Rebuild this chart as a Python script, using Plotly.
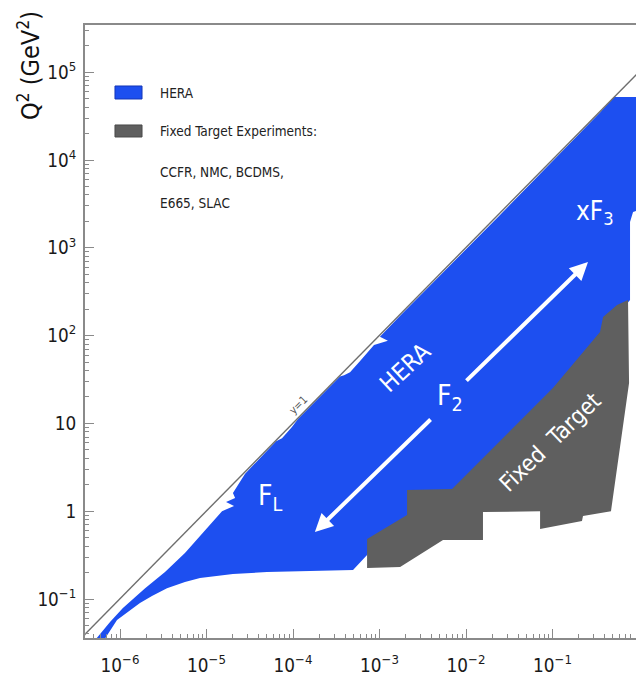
import math
import plotly.graph_objects as go

# HERA kinematic coverage: boundary in (x, Q^2 [GeV^2]), traced clockwise
hera_x = [5.14e-7, 7.66e-7, 1.08e-6, 1.95e-6, 3.31e-6, 5.63e-6, 8.41e-6, 1.16e-5, 1.51e-5,
          2.08e-5, 1.68e-5, 2.14e-5, 2.02e-5, 2.79e-5, 5.42e-5, 6.37e-5, 7.46e-5, 9.72e-5,
          1.14e-4, 3.49e-4, 3.89e-4, 4.56e-4, 5.96e-4, 7.76e-4, 8.63e-4, 1.25e-3, 1.01e-3,
          1.73e-3, 6.53e-3, 2.47e-2, 9.35e-2, 0.354, 0.514,
          1.17, 1.17, 0.853, 0.787, 0.787, 0.689, 0.354, 0.101, 7.46e-3, 2.38e-3, 2.38e-3,
          8.18e-4, 7.18e-4, 4.94e-4, 1.38e-4, 5.0e-5, 2.02e-5, 8.41e-6, 5.63e-6, 3.49e-6,
          2.34e-6, 1.70e-6, 9.23e-7, 6.53e-7]
hera_q2 = [0.034, 0.0547, 0.0789, 0.133, 0.203, 0.334, 0.523, 0.753, 1.00,
           1.15, 1.27, 1.41, 1.61, 2.67, 5.33, 6.25, 6.79, 9.08,
           11.2, 34.3, 35.3, 38.3, 51.4, 70.6, 78.3, 87.7, 97.2,
           168, 625, 2370, 9080, 34800, 52200,
           52200, 2840, 2560, 1970, 255, 217, 84.6, 20.5, 1.45, 1.45, 0.794,
           0.412, 0.317, 0.214, 0.208, 0.203, 0.193, 0.173, 0.156, 0.133,
           0.108, 0.090, 0.0577, 0.034]

# Fixed-target coverage (CCFR, NMC, BCDMS, E665, SLAC)
fixed_x = [7.18e-4, 7.18e-4, 2.08e-3, 2.08e-3, 6.89e-3, 0.101, 0.354, 0.384, 0.557, 0.746,
           0.767, 0.474, 0.225, 0.219, 0.0718, 0.0718, 0.0157, 0.0157, 5.42e-3, 1.73e-3]
fixed_q2 = [0.225, 0.482, 0.906, 1.75, 1.79, 25.3, 110, 163, 223, 255,
            28.8, 1.0, 0.881, 0.773, 0.627, 1.0, 0.98, 0.470, 0.470, 0.231]

# Kinematic limit y = 1 at HERA energies
ylim_x = [1e-7, 2.0]
ylim_q2 = [0.0101, 2.02e5]

HERA_BLUE = "#1d4ff0"
FT_GRAY = "#5f5f5f"
AXIS_GRAY = "#8a8a8a"
COND = "DejaVu Sans Condensed, Liberation Sans Narrow, DejaVu Sans, sans-serif"

fig = go.Figure()
fig.add_trace(go.Scatter(x=hera_x, y=hera_q2, mode="lines", fill="toself",
                         fillcolor=HERA_BLUE, line=dict(width=0, color=HERA_BLUE),
                         name="HERA", showlegend=False, hoverinfo="skip"))
fig.add_trace(go.Scatter(x=fixed_x, y=fixed_q2, mode="lines", fill="toself",
                         fillcolor=FT_GRAY, line=dict(width=0, color=FT_GRAY),
                         name="Fixed Target", showlegend=False, hoverinfo="skip"))
fig.add_trace(go.Scatter(x=ylim_x, y=ylim_q2, mode="lines",
                         line=dict(color="#6e6e6e", width=1.4),
                         showlegend=False, hoverinfo="skip"))

L = math.log10


def label(x, q2, text, size, angle=0, color="white"):
    fig.add_annotation(x=L(x), y=L(q2), xref="x", yref="y", text=text, showarrow=False,
                       textangle=angle, font=dict(family=COND, size=size, color=color))


def arrow(x0, q0, x1, q1):
    fig.add_annotation(x=L(x1), y=L(q1), ax=L(x0), ay=L(q0), xref="x", yref="y",
                       axref="x", ayref="y", text="", showarrow=True, arrowhead=2,
                       arrowsize=0.9, arrowwidth=4, arrowcolor="white",
                       standoff=0, startstandoff=0)


# structure-function arrows through the HERA band
arrow(9.73e-3, 29.6, 0.257, 689)
arrow(4.05e-3, 11.5, 1.79e-4, 0.579)

label(1.97e-3, 42.8, "HERA", 24, -43)
label(6.53e-3, 19.5, "F<sub>2</sub>", 28)
label(0.0935, 6.14, "Fixed  Target", 23, -44)
label(0.310, 2495, "xF<sub>3</sub>", 26)
label(5.42e-5, 1.45, "F<sub>L</sub>", 28)
label(1.14e-4, 16.2, "y=1", 11, -45, "#555555")

# legend block (plot-area fractions)
fig.add_shape(type="rect", xref="paper", yref="paper", x0=0.0544, x1=0.1035,
              y0=0.8793, y1=0.9005, fillcolor=HERA_BLUE, line=dict(color="#1436b8", width=1))
fig.add_shape(type="rect", xref="paper", yref="paper", x0=0.0544, x1=0.1035,
              y0=0.8173, y1=0.8369, fillcolor=FT_GRAY, line=dict(color="#4a4a4a", width=1))
for txt, yy in [("HERA", 0.8891), ("Fixed Target Experiments:", 0.8271),
                ("CCFR, NMC, BCDMS,", 0.7602), ("E665, SLAC", 0.7096)]:
    fig.add_annotation(x=0.1325, y=yy, xref="paper", yref="paper", text=txt,
                       showarrow=False, xanchor="left", yanchor="middle",
                       font=dict(family=COND, size=13.5, color="#222222"))

# vertical axis title, placed at the top of the axis
fig.add_annotation(x=-0.1016, y=0.933, xref="paper", yref="paper",
                   text="Q<sup>2</sup> (GeV<sup>2</sup>)", textangle=-90, showarrow=False,
                   xanchor="center", yanchor="middle",
                   font=dict(family=COND, size=25, color="#111111"))

axis_common = dict(type="log", dtick=1, exponentformat="power", showgrid=False,
                   zeroline=False, showline=True, linecolor=AXIS_GRAY, linewidth=1.5,
                   ticks="inside", ticklen=9, tickwidth=1, tickcolor=AXIS_GRAY,
                   minor=dict(ticks="inside", ticklen=4, tickwidth=1, tickcolor=AXIS_GRAY,
                              showgrid=False),
                   tickfont=dict(family=COND, size=15, color="#1a1a1a"),
                   automargin=False)

fig.update_xaxes(range=[-6.405, -0.035], mirror=True, ticklabelstandoff=10, **axis_common)
fig.update_yaxes(range=[-1.444, 5.538], mirror=False, ticklabelstandoff=4, **axis_common)

fig.update_layout(width=636, height=675, margin=dict(l=85, r=0, t=25, b=37, pad=0),
                  paper_bgcolor="white", plot_bgcolor="white")

fig.write_html("out.html")
